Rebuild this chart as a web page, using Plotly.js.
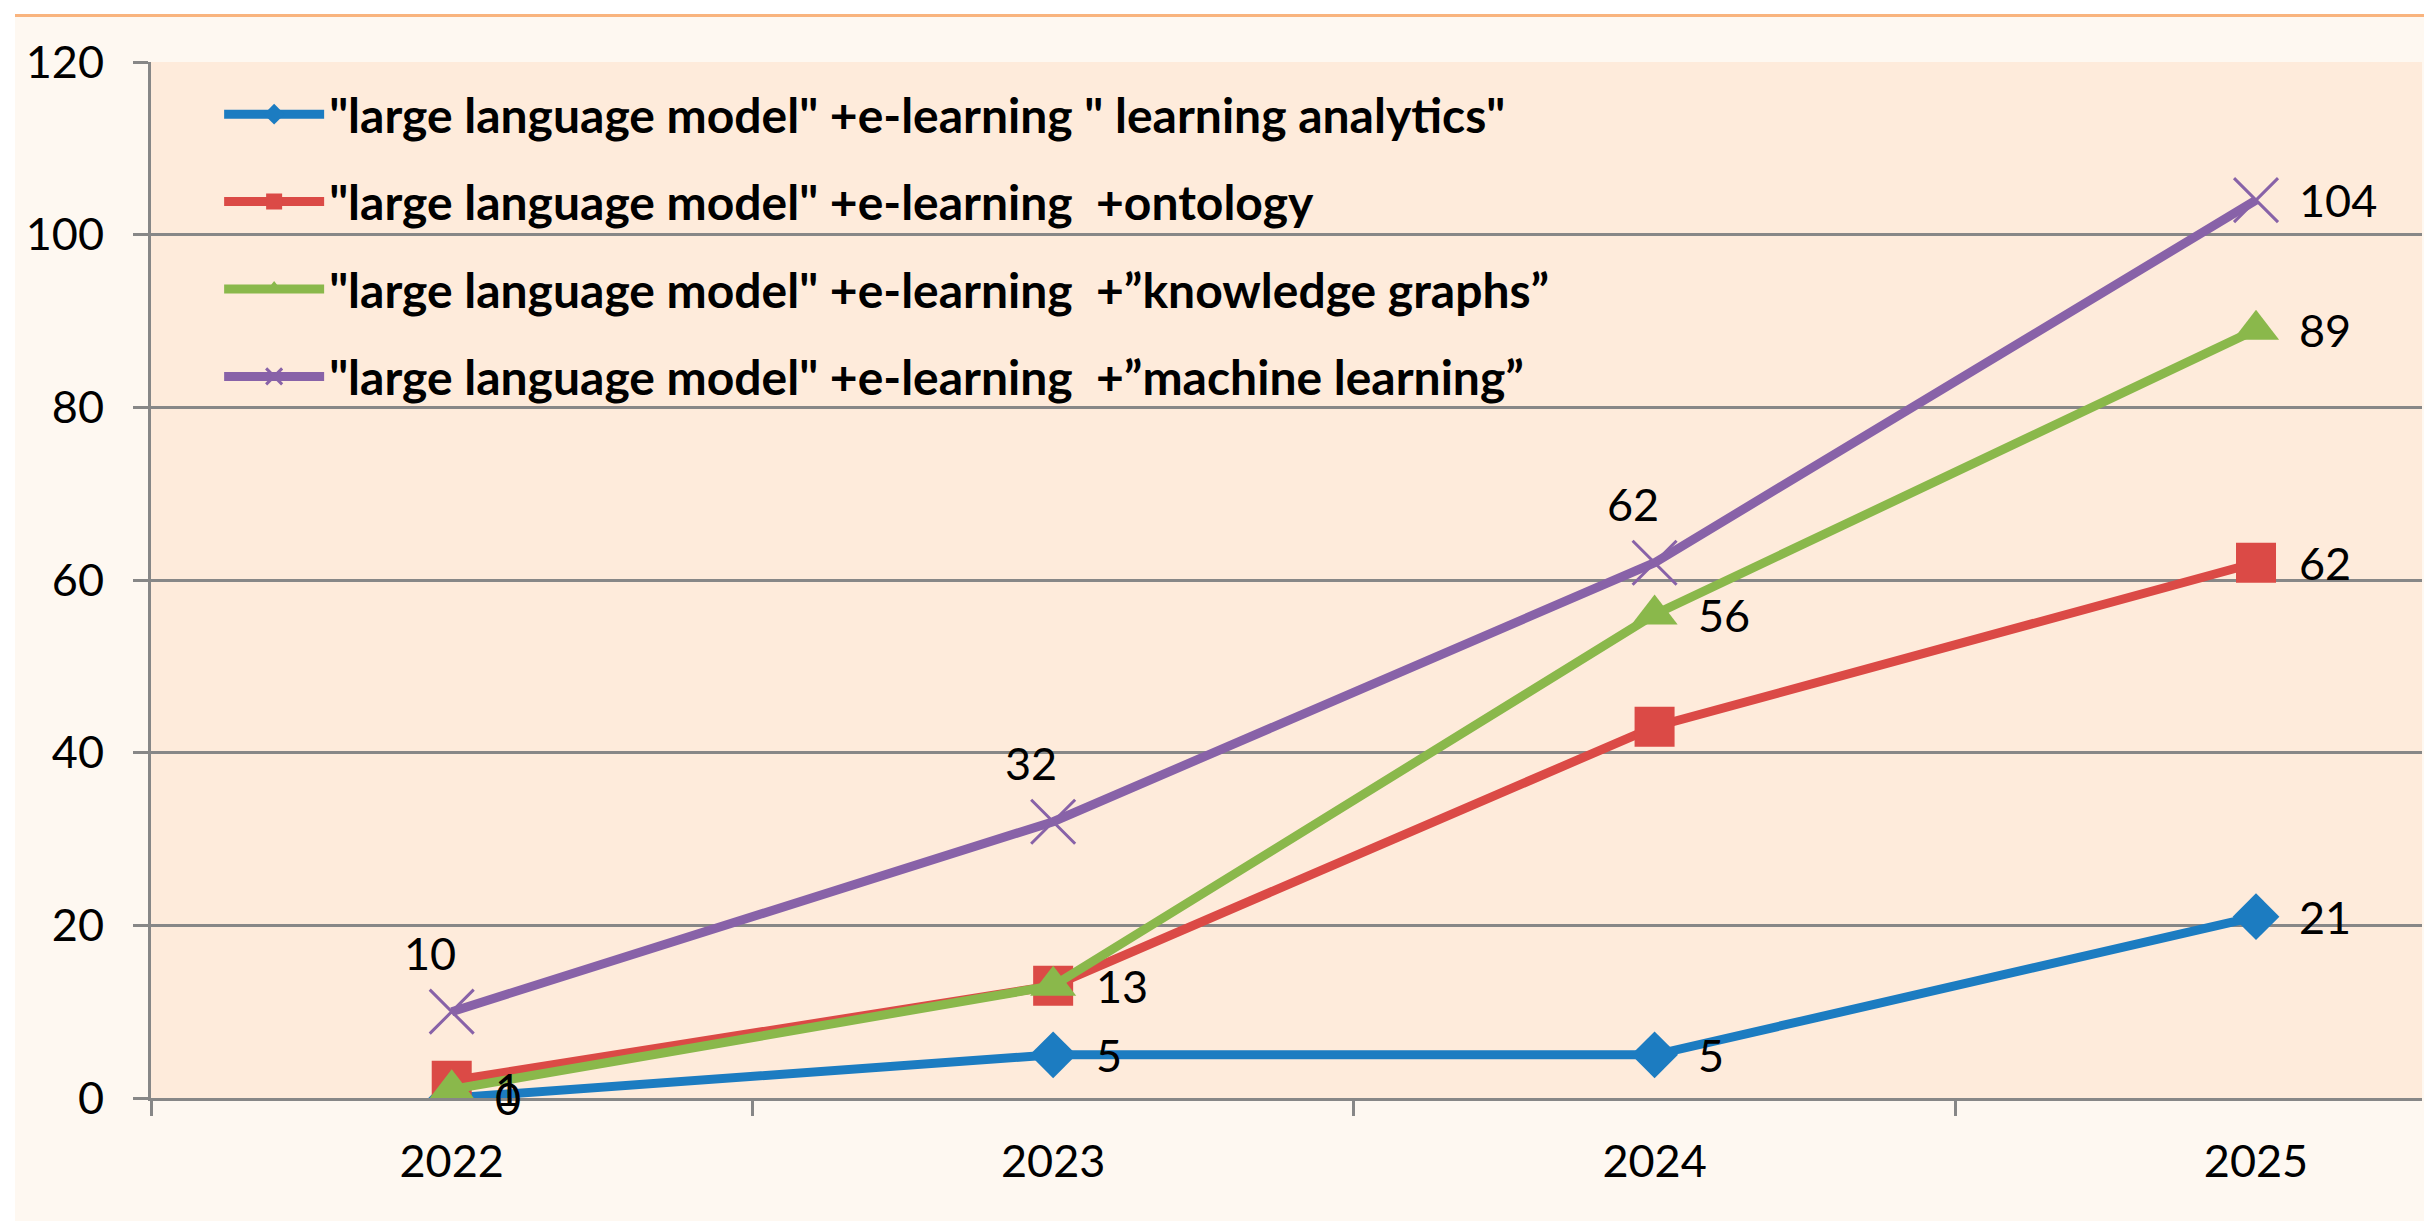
<!DOCTYPE html>
<html>
<head>
<meta charset="utf-8">
<script src="https://cdn.plot.ly/plotly-3.0.1.min.js"></script>
<style>
  html, body { margin: 0; padding: 0; background: #ffffff; }
  #frame {
    position: absolute; left: 15px; top: 14px;
    width: 2409px; height: 1204px;
    border-top: 3px solid #f9b47e;
    background: #fef8f1;
  }
  #chart { width: 2409px; height: 1201px; }
</style>
</head>
<body>
<div id="frame"><div id="chart"></div></div>
<script>
// categories
var years = ['2022', '2023', '2024', '2025'];

// series values (publication counts)
var analyticsVals = [0, 5, 5, 21];
var ontologyVals = [2, 13, 43, 62];
var graphsVals = [1, 13, 56, 89];
var machineVals = [10, 32, 62, 104];

// data labels as they show on the chart ('' = no label)
var analyticsLabels = ['0', '5', '5', '21'];
var ontologyLabels = ['', '', '', '62'];
var graphsLabels = ['1', '13', '56', '89'];
var machineLabels = ['10', '32', '62', '104'];

// legend names
var seriesNames = [
  '"large language model" +e-learning " learning analytics"',
  '"large language model" +e-learning  +ontology',
  '"large language model" +e-learning  +\u201dknowledge graphs\u201d',
  '"large language model" +e-learning  +\u201dmachine learning\u201d'
];

var blueColor = '#1c7cc1';
var redColor = '#db4a46';
var greenColor = '#8ab84b';
var purpleColor = '#8862a8';
var gridColor = '#878787';
var fontFamily = 'Lato, "Open Sans", sans-serif';

var series = [
  { vals: analyticsVals, labels: analyticsLabels, name: seriesNames[0], color: blueColor,
    marker: { symbol: 'diamond', size: 36, color: blueColor },
    where: ['right', 'right', 'right', 'right'] },
  { vals: ontologyVals, labels: ontologyLabels, name: seriesNames[1], color: redColor,
    marker: { symbol: 'square', size: 40, color: redColor },
    where: ['right', 'right', 'right', 'right'] },
  { vals: graphsVals, labels: graphsLabels, name: seriesNames[2], color: greenColor,
    marker: { symbol: 'triangle-up', size: 40, color: greenColor },
    where: ['right', 'right', 'right', 'right'] },
  { vals: machineVals, labels: machineLabels, name: seriesNames[3], color: purpleColor,
    marker: { symbol: 'x-thin', size: 44, color: purpleColor, line: { color: purpleColor, width: 3 } },
    where: ['above', 'above', 'above', 'right'] }
];

var data = series.map(function (s, i) {
  return {
    x: years,
    y: s.vals,
    name: s.name,
    type: 'scatter',
    mode: 'lines+markers',
    legendgroup: 'g' + i,
    line: { color: s.color, width: 9 },
    marker: s.marker,
    hoverinfo: 'x+y'
  };
});

// data labels placed through the axes as annotations
// (x is the category index: numeric strings like '2022' would be read as positions)
var annotations = [];
series.forEach(function (s) {
  s.labels.forEach(function (txt, j) {
    if (!txt) return;
    var a = {
      x: j, y: s.vals[j], xref: 'x', yref: 'y',
      text: txt, showarrow: false,
      font: { family: fontFamily, size: 45, color: '#000000' }
    };
    if (s.where[j] === 'right') {
      a.xanchor = 'left'; a.yanchor = 'middle'; a.xshift = 41;
    } else {
      a.xanchor = 'center'; a.yanchor = 'middle'; a.yshift = 59; a.xshift = -22;
    }
    annotations.push(a);
  });
});

var layout = {
  width: 2409,
  height: 1201,
  paper_bgcolor: '#fef8f1',
  plot_bgcolor: '#feebdb',
  margin: { t: 45, l: 136, r: 2, b: 120 },
  font: { family: fontFamily, size: 45, color: '#000000' },
  showlegend: true,
  legend: {
    x: 0.030, y: 0.986, xanchor: 'left', yanchor: 'top',
    bgcolor: 'rgba(0,0,0,0)',
    font: { family: fontFamily, size: 48, color: '#000000', weight: 'bold' },
    itemwidth: 100,
    tracegroupgap: 22
  },
  xaxis: {
    type: 'category',
    range: [-0.5, 3.276],
    showgrid: false,
    showline: true, linecolor: gridColor, linewidth: 3,
    ticks: 'outside', ticklen: 15, tickwidth: 3, tickcolor: gridColor,
    tickson: 'boundaries',
    ticklabelstandoff: 22,
    fixedrange: true
  },
  yaxis: {
    range: [0, 120],
    dtick: 20,
    showgrid: true, gridcolor: gridColor, gridwidth: 3,
    zeroline: false,
    showline: true, linecolor: gridColor, linewidth: 3,
    ticks: 'outside', ticklen: 15, tickwidth: 3, tickcolor: gridColor,
    ticklabelstandoff: 20,
    fixedrange: true
  },
  annotations: annotations
};

var config = { displayModeBar: false, staticPlot: true };

Plotly.newPlot('chart', data, layout, config);
</script>
</body>
</html>
